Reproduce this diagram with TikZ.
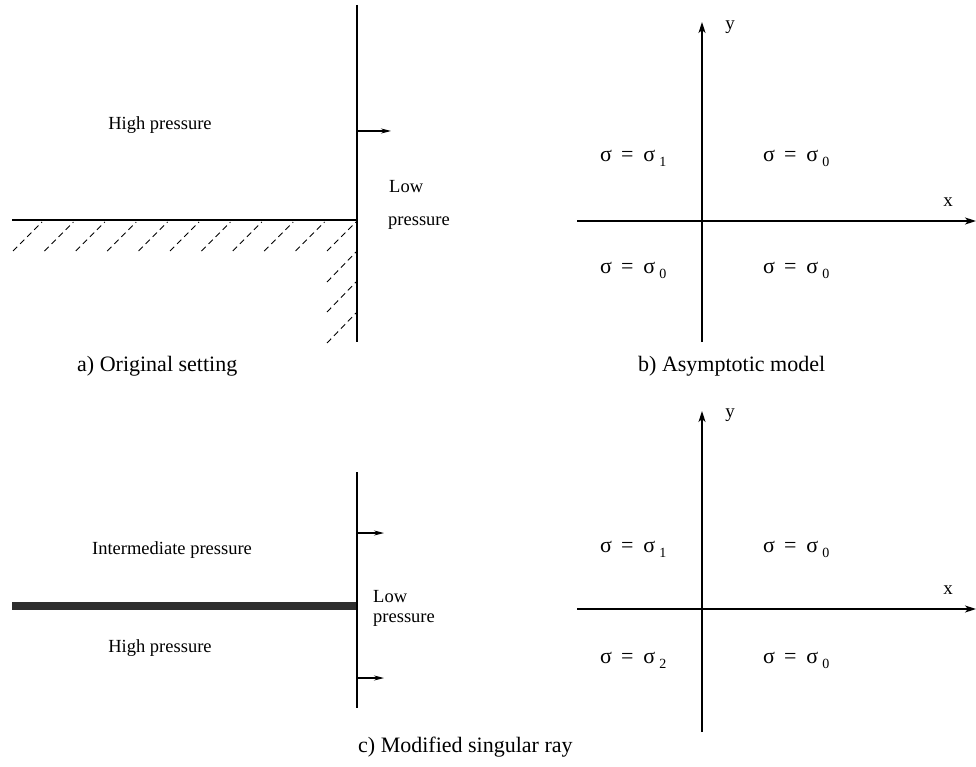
\documentclass[tikz,border=0pt]{standalone}
\usepackage{fontspec}
\setmainfont{Liberation Serif}
\usetikzlibrary{arrows.meta}
\newcommand{\sigeq}[1]{σ\hspace{9pt}=\hspace{10pt}σ\hspace{4pt}\raisebox{-5pt}{\fontsize{14}{14}\selectfont #1}}
\begin{document}
\begin{tikzpicture}[x=1pt,y=-1pt,
  wall/.style={line width=1.6pt},
  hatch/.style={line width=0.9pt, dash pattern=on 6pt off 4pt},
  lbl/.style={font=\fontsize{18.5}{20}\selectfont, inner sep=0pt},
  captxt/.style={font=\fontsize{22}{24}\selectfont, inner sep=0pt, anchor=base west},
  sig/.style={font=\fontsize{22}{24}\selectfont, inner sep=0pt, anchor=base west},
  axlbl/.style={font=\fontsize{19}{20}\selectfont, inner sep=0pt},
  axis/.style={line width=1.3pt, -{Stealth[length=11pt,width=7pt,inset=3pt]}},
  push/.style={line width=1.1pt, -{Stealth[length=10pt,width=5pt]}}]
\useasboundingbox (0,0) rectangle (976,767);

% ---------- a) Original setting ----------
\coordinate (aT) at (357,5);
\coordinate (aB) at (357,342);
\coordinate (aL) at (12,220);
\coordinate (aC) at (357,220);
\coordinate (aA0) at (357,131);
\coordinate (aA1) at (391,131);
\draw[wall] (aT) -- (aB);
\draw[wall] (aL) -- (aC);
\draw[push] (aA0) -- (aA1);
\foreach \i in {0,...,10}{
  \draw[hatch] ({13+31.4*\i},251) -- ({42+31.4*\i},222);
}
\foreach \yy in {282,312,343}{
  \draw[hatch] (327,\yy) -- (356,{\yy-30});
}
\node[lbl] (aHigh) at (160,125) {High pressure};
\node[lbl, anchor=west] (aLow) at (389,187) {Low};
\node[lbl, anchor=west] (aPress) at (388,223) {pressure};
\node[captxt] (aCap) at (77,371) {a) Original setting};

% ---------- b) Asymptotic model ----------
\coordinate (bYb) at (702,342);
\coordinate (bYt) at (702,22);
\coordinate (bXl) at (577,221);
\coordinate (bXr) at (976,221);
\draw[axis] (bYb) -- (bYt);
\draw[axis] (bXl) -- (bXr);
\node[axlbl] (bY) at (730,27) {y};
\node[axlbl] (bX) at (948,202) {x};
\node[sig] (b1) at (600,162) {\sigeq{1}};
\node[sig] (b2) at (763,162) {\sigeq{0}};
\node[sig] (b3) at (600,273) {\sigeq{0}};
\node[sig] (b4) at (763,273) {\sigeq{0}};
\node[captxt] (bCap) at (638,371) {b) Asymptotic model};

% ---------- c) Modified singular ray ----------
\coordinate (cT) at (357,472);
\coordinate (cB) at (357,708);
\coordinate (cA0) at (357,533);
\coordinate (cA1) at (384,533);
\coordinate (cB0) at (357,678);
\coordinate (cB1) at (384,678);
\fill[black!82] (12,602) rectangle (357,610);
\draw[wall] (cT) -- (cB);
\draw[push] (cA0) -- (cA1);
\draw[push] (cB0) -- (cB1);
\node[lbl] (cInt) at (172,550) {Intermediate pressure};
\node[lbl] (cHigh) at (160,648) {High pressure};
\node[lbl, anchor=west] (cLow) at (373,597) {Low};
\node[lbl, anchor=west] (cPress) at (373,620) {pressure};

% ---------- d) modified axes ----------
\coordinate (dYb) at (702,732);
\coordinate (dYt) at (702,411);
\coordinate (dXl) at (577,609);
\coordinate (dXr) at (976,609);
\draw[axis] (dYb) -- (dYt);
\draw[axis] (dXl) -- (dXr);
\node[axlbl] (dY) at (730,415) {y};
\node[axlbl] (dX) at (948,590) {x};
\node[sig] (d1) at (600,552) {\sigeq{1}};
\node[sig] (d2) at (763,552) {\sigeq{0}};
\node[sig] (d3) at (600,663) {\sigeq{2}};
\node[sig] (d4) at (763,663) {\sigeq{0}};
\node[captxt] (cCap) at (358,752) {c) Modified singular ray};
\end{tikzpicture}
\end{document}
